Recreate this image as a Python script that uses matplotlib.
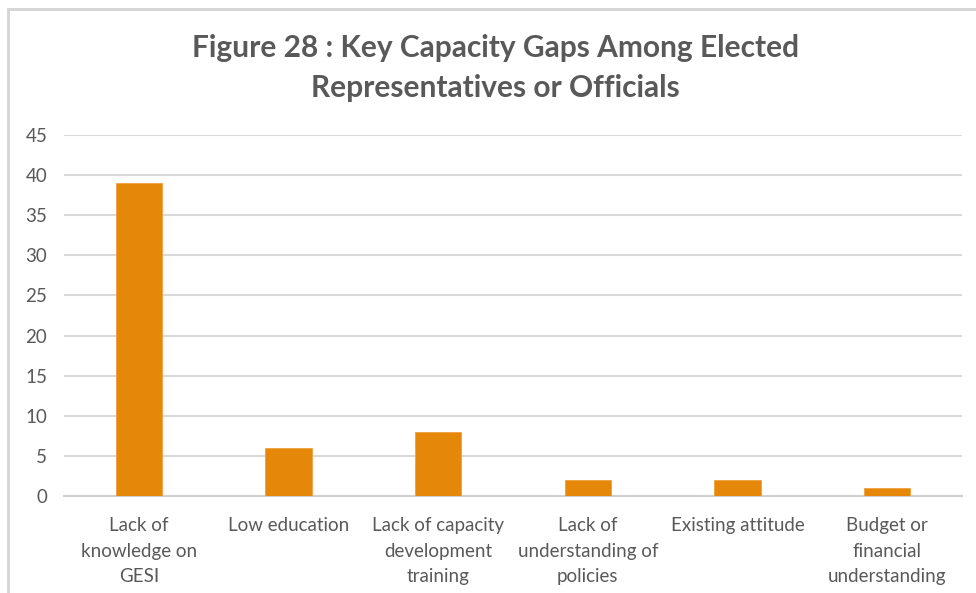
import matplotlib
matplotlib.use("Agg")
import matplotlib.pyplot as plt
from matplotlib.patches import Rectangle

categories = [
    "Lack of\nknowledge on\nGESI",
    "Low education",
    "Lack of capacity\ndevelopment\ntraining",
    "Lack of\nunderstanding of\npolicies",
    "Existing attitude",
    "Budget or\nfinancial\nunderstanding",
]
values = [39, 6, 8, 2, 2, 1]
yticks = [0, 5, 10, 15, 20, 25, 30, 35, 40, 45]
title = "Figure 28 : Key Capacity Gaps Among Elected\nRepresentatives or Officials"

W, H = 976, 593
fig = plt.figure(figsize=(W / 100, H / 100), dpi=100)
fig.patch.set_facecolor("white")

ax = fig.add_axes([64 / W, 1 - 496 / H, (962 - 64) / W, (496 - 135) / H])
x = list(range(len(categories)))
ax.bar(x, values, width=0.31, color="#E5880A", edgecolor="#F0A040", linewidth=0.6, zorder=3)

ax.set_xlim(-0.5, len(categories) - 0.5)
ax.set_ylim(0, 45)
ax.set_yticks(yticks)
ax.set_yticklabels([str(t) for t in yticks])
ax.set_xticks(x)
ax.set_xticklabels(categories, linespacing=1.62)

ax.grid(axis="y", color="#D9D9D9", linewidth=1.5, zorder=0)
for s in ["top", "right", "left"]:
    ax.spines[s].set_visible(False)
ax.spines["bottom"].set_color("#D0D0D0")
ax.spines["bottom"].set_linewidth(1.5)
ax.tick_params(axis="both", length=0, colors="#595959", labelsize=13.5)
ax.tick_params(axis="y", pad=12)
ax.tick_params(axis="x", pad=15)
for lab in ax.get_xticklabels() + ax.get_yticklabels():
    lab.set_family("Lato")
    lab.set_color("#595959")

fig.text(0.508, 1 - 68 / H, title, ha="center", va="center", fontsize=21.5,
         fontweight="bold", family="Lato", color="#595959", linespacing=1.5)

# thin frame around the chart area
fig.patches.append(Rectangle((8 / W, -0.1), 1.2, 1 - 9 / H + 0.1, transform=fig.transFigure,
                             fill=False, edgecolor="#D4D4D4", linewidth=2))

fig.savefig("out.png", dpi=100)
